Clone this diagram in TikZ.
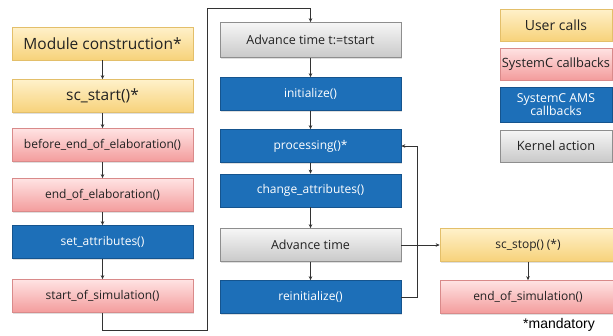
\documentclass[tikz,border=0pt]{standalone}
\usepackage{fontspec}
\setmainfont{Open Sans}
\newfontfamily\arialf{Liberation Sans}
\usetikzlibrary{shadows,arrows.meta}
\definecolor{yTop}{HTML}{FFF1CA}
\definecolor{yBot}{HTML}{F7D27A}
\definecolor{yBrd}{HTML}{E3BF6A}
\definecolor{pTop}{HTML}{FFE3E3}
\definecolor{pBot}{HTML}{F39C9C}
\definecolor{pBrd}{HTML}{D98A8A}
\definecolor{bFill}{HTML}{1D6FB8}
\definecolor{bBrd}{HTML}{15548E}
\definecolor{gTop}{HTML}{F6F6F6}
\definecolor{gBot}{HTML}{C9C9C9}
\definecolor{gBrd}{HTML}{8E8E8E}
\definecolor{txt}{HTML}{222222}
\tikzset{
  base/.style={draw, line width=0.6pt, minimum width=181pt, minimum height=33pt, inner sep=0pt,
     drop shadow={shadow xshift=1.2pt, shadow yshift=-1.2pt, opacity=0.25}, font=\fontsize{12}{14}\selectfont},
  ybox/.style={base, top color=yTop, bottom color=yBot, draw=yBrd, text=txt},
  pbox/.style={base, top color=pTop, bottom color=pBot, draw=pBrd, text=txt},
  bbox/.style={base, fill=bFill, draw=bBrd, text=white},
  gbox/.style={base, top color=gTop, bottom color=gBot, draw=gBrd, text=txt},
  big/.style={font=\fontsize{15.5}{17}\selectfont},
  leg/.style={minimum width=112pt, font=\fontsize{12.8}{14}\selectfont, align=center},
  arr/.style={draw=black!80, line width=0.6pt, -{Stealth[length=4pt,width=3.5pt]}},
  ln/.style={draw=black!80, line width=0.6pt}
}
\begin{document}
\begin{tikzpicture}[x=1pt,y=-1pt]
\useasboundingbox (0,0) rectangle (613,335);
\fill[white] (0,0) rectangle (613,335);
\clip (0,0) rectangle (613,335);
% left column
\node[ybox,big] (mc) at (102.5,43.5) {Module construction*};
\node[ybox,big] (ss) at (102.5,96) {sc\_start()*};
\node[pbox] (be) at (102.5,145) {before\_end\_of\_elaboration()};
\node[pbox] (ee) at (102.5,195) {end\_of\_elaboration()};
\node[bbox] (sa) at (102.5,242) {set\_attributes()};
\node[pbox] (ssim) at (102.5,296) {start\_of\_simulation()};
% middle column
\node[gbox,minimum height=35pt,font=\fontsize{12.5}{14}\selectfont] (at0) at (310.5,40) {Advance time t:=tstart};
\node[bbox] (init) at (310.5,94) {initialize()};
\node[bbox] (proc) at (310.5,146) {processing()*};
\node[bbox] (ca) at (310.5,190.5) {change\_attributes()};
\node[gbox,font=\fontsize{12.5}{14}\selectfont] (at) at (310.5,245) {Advance time};
\node[bbox] (re) at (310.5,297) {reinitialize()};
% right column
\node[ybox,minimum width=176pt] (stop) at (528,245) {sc\_stop() (*)};
\node[pbox,minimum width=176pt] (eos) at (528,297) {end\_of\_simulation()};
\node[font=\arialf\fontsize{14}{16}\selectfont, text=black, inner sep=0pt] (mand) at (559,325) {*mandatory};
% legend
\node[ybox,leg,minimum height=32pt,font=\fontsize{14}{16}\selectfont] (l1) at (556,25) {User calls};
\node[pbox,leg,minimum height=32pt] (l2) at (556,64) {SystemC callbacks};
\node[bbox,leg,minimum height=35pt,font=\fontsize{12.3}{13}\selectfont] (l3) at (556,104.5) {SystemC AMS\\callbacks};
\node[gbox,leg,minimum height=32pt] (l4) at (556,146) {Kernel action};
% connectors left
\draw[arr] (mc) -- (ss);
\draw[arr] (ss) -- (be);
\draw[arr] (be) -- (ee);
\draw[arr] (ee) -- (sa);
\draw[arr] (sa) -- (ssim);
\coordinate (lb) at (207,330);
\coordinate (lt) at (207,8);
\draw[arr] (ssim.south) |- (lb) -- (lt) -| (at0.north);
% middle
\draw[arr] (at0) -- (init);
\draw[arr] (init) -- (proc);
\draw[arr] (proc) -- (ca);
\draw[arr] (ca) -- (at);
\draw[arr] (at) -- (re);
\coordinate (fb) at (417,297);
\draw[arr] (re.east) -- (fb) |- (proc.east);
\draw[arr] (at.east) -- (stop.west);
\draw[arr] (stop) -- (eos);
\end{tikzpicture}
\end{document}
